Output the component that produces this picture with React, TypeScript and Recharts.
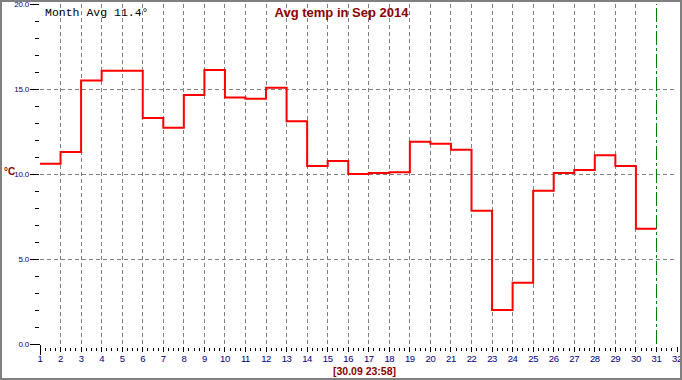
import React from 'react';
import { LineChart, Line, XAxis, YAxis, ReferenceLine } from 'recharts';

// Daily average temperature (°C), Sep 2014, day 1..30
const days: number[] = [1, 2, 3, 4, 5, 6, 7, 8, 9, 10, 11, 12, 13, 14, 15, 16, 17, 18, 19, 20, 21, 22, 23, 24, 25, 26, 27, 28, 29, 30];
const temps: number[] = [10.6, 11.3, 15.5, 16.07, 16.07, 13.3, 12.72, 14.65, 16.12, 14.5, 14.42, 15.08, 13.1, 10.47, 10.76, 10.0, 10.06, 10.1, 11.9, 11.78, 11.43, 7.84, 2.0, 3.6, 9.02, 10.06, 10.24, 11.1, 10.47, 6.78];
const endDay = 31;
const xMajorTicks: number[] = [1, 2, 3, 4, 5, 6, 7, 8, 9, 10, 11, 12, 13, 14, 15, 16, 17, 18, 19, 20, 21, 22, 23, 24, 25, 26, 27, 28, 29, 30, 31, 32];
const xMinorSteps: number[] = [0, 0.25, 0.5, 0.75];
const yTicks: number[] = [0, 1, 2, 3, 4, 5, 6, 7, 8, 9, 10, 11, 12, 13, 14, 15, 16, 17, 18, 19, 20];
const yGrid: number[] = [5, 10, 15];
const xGrid: number[] = days.slice(1);
const titleText = 'Avg temp in Sep 2014';
const avgText = 'Month Avg 11.4°';
const stampText = '[30.09 23:58]';
const unitText = '°C';

const data = [
  ...days.map((d, i) => ({ day: d, t: temps[i] })),
  { day: endDay, t: temps[temps.length - 1] },
];

const xTicks: number[] = [];
xMajorTicks.forEach((d) => {
  xMinorSteps.forEach((s) => {
    const v = d + s;
    if (v <= 32) xTicks.push(v);
  });
});

const NAVY = '#000080';
const MAROON = '#8b0000';

const XTick = (props: any) => {
  const { x, y, payload } = props;
  const v = payload.value as number;
  const major = Number.isInteger(v);
  if (!major) {
    return <line x1={x} x2={x} y1={y + 4} y2={y + 7} stroke="#000" shapeRendering="crispEdges" />;
  }
  const first = v === 1;
  return (
    <g>
      <line x1={x} x2={x} y1={first ? y + 1 : y + 3} y2={first ? y + 11 : y + 8} stroke="#000" shapeRendering="crispEdges" />
      <text x={x} y={y + 18} textAnchor="middle" fill={NAVY} fontSize={9.5} fontFamily="Liberation Sans, Arial, sans-serif" letterSpacing={-0.4}>
        {v}
      </text>
    </g>
  );
};

const YTick = (props: any) => {
  const { x, y, payload } = props;
  const v = payload.value as number;
  const major = v % 5 === 0;
  return (
    <g>
      <line x1={major ? x - 10 : x - 5} x2={v === 0 ? x : x - 1} y1={y} y2={y} stroke="#000" shapeRendering="crispEdges" />
      {major && (
        <text x={x - 11} y={y + 3} textAnchor="end" fill={NAVY} fontSize={8} fontFamily="Liberation Sans, Arial, sans-serif" letterSpacing={-0.2}>
          {v.toFixed(1)}
        </text>
      )}
    </g>
  );
};

export default function App() {
  return (
    <div style={{ position: 'absolute', left: 0, top: 0, width: 682, height: 380, background: '#fff' }}>
      <LineChart width={682} height={380} data={data} margin={{ top: 4, right: 5, bottom: 6, left: 0 }}>
        <XAxis
          dataKey="day"
          type="number"
          domain={[1, 32]}
          ticks={xTicks}
          interval={0}
          axisLine={false}
          tickLine={false}
          tickSize={0}
          tickMargin={0}
          height={30}
          tick={<XTick />}
          allowDecimals
        />
        <YAxis
          type="number"
          domain={[0, 20]}
          ticks={yTicks}
          interval={0}
          axisLine={false}
          tickLine={false}
          tickSize={0}
          tickMargin={0}
          width={40}
          tick={<YTick />}
        />
        {xGrid.map((d) => (
          <ReferenceLine key={'vx' + d} x={d} stroke="#808080" strokeDasharray="4 3" shapeRendering="crispEdges" />
        ))}
        {yGrid.map((v) => (
          <ReferenceLine key={'hy' + v} y={v} stroke="#808080" strokeDasharray="4 3" shapeRendering="crispEdges" />
        ))}
        <ReferenceLine x={endDay} stroke="#008000" strokeDasharray="14 3 3 3" shapeRendering="crispEdges" />
        <Line dataKey="t" type="stepAfter" stroke="#ff0000" strokeWidth={2} dot={false} isAnimationActive={false} />
      </LineChart>
      <svg width={682} height={380} style={{ position: 'absolute', left: 0, top: 0, pointerEvents: 'none' }}>
        <text x={341.5} y={17} textAnchor="middle" fill={MAROON} fontSize={13} fontWeight="bold" fontFamily="Liberation Sans, Arial, sans-serif">
          {titleText}
        </text>
        <text x={45} y={16} fill="#000" fontSize={11.5} fontFamily="Liberation Mono, Courier New, monospace">
          {avgText}
        </text>
        <text x={333} y={375} fill={MAROON} fontSize={10.5} fontWeight="bold" fontFamily="Liberation Sans, Arial, sans-serif">
          {stampText}
        </text>
        <text x={4} y={175} fill={MAROON} fontSize={10} fontWeight="bold" fontFamily="Liberation Sans, Arial, sans-serif">
          {unitText}
        </text>
      </svg>
      <div style={{ position: 'absolute', left: 0, top: 0, width: 682, height: 380, border: '2px solid #808080', boxSizing: 'border-box', pointerEvents: 'none' }} />
    </div>
  );
}
